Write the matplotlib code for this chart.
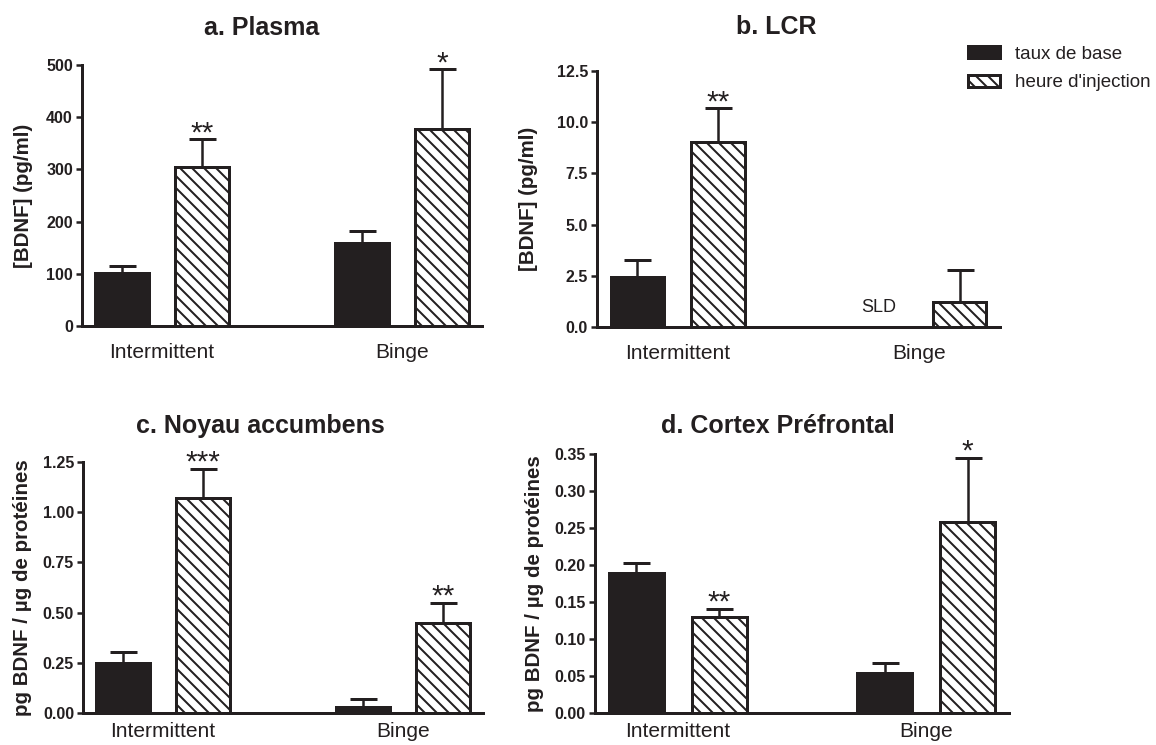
import numpy as np
import matplotlib.pyplot as plt

plt.rcParams['font.family'] = ['Liberation Sans', 'DejaVu Sans']
plt.rcParams['hatch.linewidth'] = 2.0

DARK = '#231f20'

groups = ['Intermittent', 'Binge']
series_labels = ['taux de base', "heure d'injection"]

# a. Plasma (pg/ml)
plasma_base = [102, 159]
plasma_base_err = [13, 23]
plasma_inj = [305, 377]
plasma_inj_err = [53, 115]
plasma_stars = ['**', '*']
plasma_ticks = [0, 100, 200, 300, 400, 500]

# b. LCR (pg/ml) - base Binge below detection limit
lcr_base = [2.44, np.nan]
lcr_base_err = [0.83, np.nan]
lcr_inj = [9.03, 1.22]
lcr_inj_err = [1.66, 1.56]
lcr_stars = ['**', '']
lcr_ticks = [0.0, 2.5, 5.0, 7.5, 10.0, 12.5]

# c. Noyau accumbens (pg / ug proteines)
nac_base = [0.249, 0.030]
nac_base_err = [0.055, 0.038]
nac_inj = [1.070, 0.448]
nac_inj_err = [0.145, 0.100]
nac_stars = ['***', '**']
nac_ticks = [0.00, 0.25, 0.50, 0.75, 1.00, 1.25]

# d. Cortex prefrontal
pfc_base = [0.189, 0.054]
pfc_base_err = [0.014, 0.014]
pfc_inj = [0.130, 0.258]
pfc_inj_err = [0.011, 0.087]
pfc_stars = ['**', '*']
pfc_ticks = [0.00, 0.05, 0.10, 0.15, 0.20, 0.25, 0.30, 0.35]

W, H = 1156, 745
fig = plt.figure(figsize=(W / 72, H / 72), dpi=72)

panels = [
    dict(title='a. Plasma', rect=(82, 326, 400, 261), title_xy=(262, 35),
         base=plasma_base, base_err=plasma_base_err, inj=plasma_inj, inj_err=plasma_inj_err,
         stars=plasma_stars, ticks=plasma_ticks, fmt='%d', ylabel='[BDNF] (pg/ml)',
         ylab_x=-0.1475, xpad=17),
    dict(title='b. LCR', rect=(597, 327, 403, 256), title_xy=(776, 34),
         base=lcr_base, base_err=lcr_base_err, inj=lcr_inj, inj_err=lcr_inj_err,
         stars=lcr_stars, ticks=lcr_ticks, fmt='%.1f', ylabel='[BDNF] (pg/ml)',
         ylab_x=-0.171, xpad=17),
    dict(title='c. Noyau accumbens', rect=(83, 713, 400, 251), title_xy=(260, 433),
         base=nac_base, base_err=nac_base_err, inj=nac_inj, inj_err=nac_inj_err,
         stars=nac_stars, ticks=nac_ticks, fmt='%.2f', ylabel='pg BDNF / µg de protéines',
         ylab_x=-0.1525, xpad=9),
    dict(title='d. Cortex Préfrontal', rect=(595, 713, 414, 259), title_xy=(778, 433),
         base=pfc_base, base_err=pfc_base_err, inj=pfc_inj, inj_err=pfc_inj_err,
         stars=pfc_stars, ticks=pfc_ticks, fmt='%.2f', ylabel='pg BDNF / µg de protéines',
         ylab_x=-0.147, xpad=9),
]

centers = np.array([2.0, 8.0])
offset = 1.0
bar_w = 1.33
legend_handles = None

for p in panels:
    left, bottom, width, height = p['rect']
    ax = fig.add_axes([left / W, 1 - bottom / H, width / W, height / H])

    x_base = centers - offset
    x_inj = centers + offset
    base = np.array(p['base'], dtype=float)
    base_err = np.array(p['base_err'], dtype=float)
    inj = np.array(p['inj'], dtype=float)
    inj_err = np.array(p['inj_err'], dtype=float)

    ok = ~np.isnan(base)
    b1 = ax.bar(x_base[ok], base[ok], width=bar_w, color=DARK, edgecolor=DARK,
                linewidth=3, zorder=3, label=series_labels[0])
    b2 = ax.bar(x_inj, inj, width=bar_w, facecolor='white', edgecolor=DARK,
                hatch='\\\\', linewidth=3, zorder=3, label=series_labels[1])
    ax.errorbar(x_base[ok], base[ok], yerr=[np.zeros(ok.sum()), base_err[ok]], fmt='none',
                ecolor=DARK, elinewidth=2.5, capsize=13.5, capthick=3, zorder=2)
    ax.errorbar(x_inj, inj, yerr=[np.zeros(len(inj)), inj_err], fmt='none',
                ecolor=DARK, elinewidth=2.5, capsize=13.5, capthick=3, zorder=2)
    if legend_handles is None:
        legend_handles = [b1, b2]

    for xi, v, e, s in zip(x_inj, inj, inj_err, p['stars']):
        if s:
            ax.annotate(s, xy=(xi, v + e), xytext=(0, -2), textcoords='offset points',
                        ha='center', va='baseline', fontsize=30, color=DARK,
                        annotation_clip=False)

    # below detection limit marker
    for xi, v in zip(x_base, base):
        if np.isnan(v):
            ax.text(xi, p['ticks'][-1] * 0.078, 'SLD', ha='center', va='center',
                    fontsize=18, color=DARK)

    ax.set_xlim(0, 10)
    ax.set_ylim(p['ticks'][0], p['ticks'][-1])
    ax.set_yticks(p['ticks'], labels=[p['fmt'] % t for t in p['ticks']])
    ax.set_xticks(centers, labels=groups)
    for lab in ax.get_yticklabels():
        lab.set_fontweight('bold')
    ax.tick_params(axis='y', length=6, width=2.5, labelsize=16, pad=3,
                   colors=DARK)
    ax.tick_params(axis='x', length=0, labelsize=21, pad=p['xpad'], colors=DARK)
    for side in ['top', 'right']:
        ax.spines[side].set_visible(False)
    for side in ['left', 'bottom']:
        ax.spines[side].set_linewidth(3)
        ax.spines[side].set_color(DARK)

    ax.set_ylabel(p['ylabel'], fontsize=20.5, fontweight='bold', color=DARK, va='center')
    ax.yaxis.set_label_coords(p['ylab_x'], 0.5)

    tx, ty = p['title_xy']
    fig.text(tx / W, 1 - ty / H, p['title'], ha='center', va='baseline',
             fontsize=25, fontweight='bold', color=DARK)

fig.legend(legend_handles, series_labels, loc='upper left',
           bbox_to_anchor=(968 / W, 1 - 46 / H), frameon=False, fontsize=18.7,
           handlelength=1.7, handleheight=0.6, handletextpad=0.8,
           labelspacing=0.6, borderpad=0, borderaxespad=0, labelcolor=DARK)

fig.savefig('out.png', dpi=72)
